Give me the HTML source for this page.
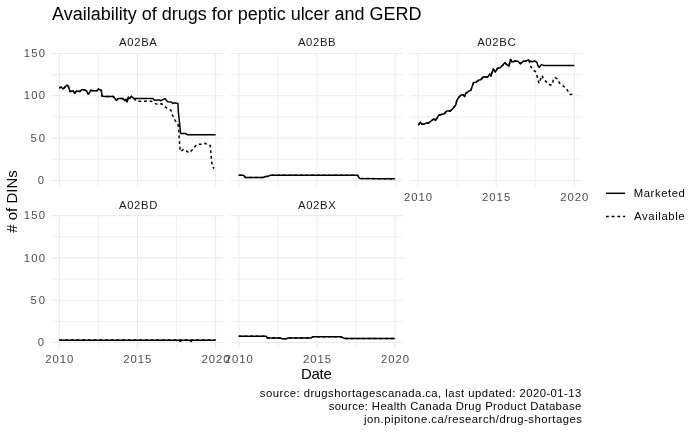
<!DOCTYPE html>
<html><head><meta charset="utf-8"><style>
html,body{margin:0;padding:0;background:#fff;}
svg{display:block;will-change:transform;}
text{font-family:"Liberation Sans",sans-serif;}
.mi{stroke:#ebebeb;stroke-width:0.75;}
.ma{stroke:#ebebeb;stroke-width:1.1;}
.ls{stroke:#000;stroke-width:1.5;fill:none;stroke-linejoin:round;}
.ld{stroke:#000;stroke-width:1.5;fill:none;stroke-dasharray:2.85 2.85;stroke-linejoin:round;}
</style></head><body>
<svg width="700" height="432" viewBox="0 0 700 432">
<rect width="700" height="432" fill="#fff"/>
<line x1="51.45" x2="223.25" y1="159.29" y2="159.29" class="mi"/>
<line x1="51.45" x2="223.25" y1="116.98" y2="116.98" class="mi"/>
<line x1="51.45" x2="223.25" y1="74.66" y2="74.66" class="mi"/>
<line x1="98.40" x2="98.40" y1="52.90" y2="186.50" class="mi"/>
<line x1="176.50" x2="176.50" y1="52.90" y2="186.50" class="mi"/>
<line x1="51.45" x2="223.25" y1="180.45" y2="180.45" class="ma"/>
<line x1="51.45" x2="223.25" y1="138.13" y2="138.13" class="ma"/>
<line x1="51.45" x2="223.25" y1="95.82" y2="95.82" class="ma"/>
<line x1="51.45" x2="223.25" y1="53.50" y2="53.50" class="ma"/>
<line x1="59.35" x2="59.35" y1="52.90" y2="186.50" class="ma"/>
<line x1="137.45" x2="137.45" y1="52.90" y2="186.50" class="ma"/>
<line x1="215.55" x2="215.55" y1="52.90" y2="186.50" class="ma"/>
<line x1="231.00" x2="402.80" y1="159.29" y2="159.29" class="mi"/>
<line x1="231.00" x2="402.80" y1="116.98" y2="116.98" class="mi"/>
<line x1="231.00" x2="402.80" y1="74.66" y2="74.66" class="mi"/>
<line x1="277.95" x2="277.95" y1="52.90" y2="186.50" class="mi"/>
<line x1="356.05" x2="356.05" y1="52.90" y2="186.50" class="mi"/>
<line x1="231.00" x2="402.80" y1="180.45" y2="180.45" class="ma"/>
<line x1="231.00" x2="402.80" y1="138.13" y2="138.13" class="ma"/>
<line x1="231.00" x2="402.80" y1="95.82" y2="95.82" class="ma"/>
<line x1="231.00" x2="402.80" y1="53.50" y2="53.50" class="ma"/>
<line x1="238.90" x2="238.90" y1="52.90" y2="186.50" class="ma"/>
<line x1="317.00" x2="317.00" y1="52.90" y2="186.50" class="ma"/>
<line x1="395.10" x2="395.10" y1="52.90" y2="186.50" class="ma"/>
<line x1="410.20" x2="582.00" y1="159.29" y2="159.29" class="mi"/>
<line x1="410.20" x2="582.00" y1="116.98" y2="116.98" class="mi"/>
<line x1="410.20" x2="582.00" y1="74.66" y2="74.66" class="mi"/>
<line x1="457.15" x2="457.15" y1="52.90" y2="186.50" class="mi"/>
<line x1="535.25" x2="535.25" y1="52.90" y2="186.50" class="mi"/>
<line x1="410.20" x2="582.00" y1="180.45" y2="180.45" class="ma"/>
<line x1="410.20" x2="582.00" y1="138.13" y2="138.13" class="ma"/>
<line x1="410.20" x2="582.00" y1="95.82" y2="95.82" class="ma"/>
<line x1="410.20" x2="582.00" y1="53.50" y2="53.50" class="ma"/>
<line x1="418.10" x2="418.10" y1="52.90" y2="186.50" class="ma"/>
<line x1="496.20" x2="496.20" y1="52.90" y2="186.50" class="ma"/>
<line x1="574.30" x2="574.30" y1="52.90" y2="186.50" class="ma"/>
<line x1="51.45" x2="223.25" y1="321.39" y2="321.39" class="mi"/>
<line x1="51.45" x2="223.25" y1="279.08" y2="279.08" class="mi"/>
<line x1="51.45" x2="223.25" y1="236.76" y2="236.76" class="mi"/>
<line x1="98.40" x2="98.40" y1="215.00" y2="348.60" class="mi"/>
<line x1="176.50" x2="176.50" y1="215.00" y2="348.60" class="mi"/>
<line x1="51.45" x2="223.25" y1="342.55" y2="342.55" class="ma"/>
<line x1="51.45" x2="223.25" y1="300.24" y2="300.24" class="ma"/>
<line x1="51.45" x2="223.25" y1="257.92" y2="257.92" class="ma"/>
<line x1="51.45" x2="223.25" y1="215.60" y2="215.60" class="ma"/>
<line x1="59.35" x2="59.35" y1="215.00" y2="348.60" class="ma"/>
<line x1="137.45" x2="137.45" y1="215.00" y2="348.60" class="ma"/>
<line x1="215.55" x2="215.55" y1="215.00" y2="348.60" class="ma"/>
<line x1="231.00" x2="402.80" y1="321.39" y2="321.39" class="mi"/>
<line x1="231.00" x2="402.80" y1="279.08" y2="279.08" class="mi"/>
<line x1="231.00" x2="402.80" y1="236.76" y2="236.76" class="mi"/>
<line x1="277.95" x2="277.95" y1="215.00" y2="348.60" class="mi"/>
<line x1="356.05" x2="356.05" y1="215.00" y2="348.60" class="mi"/>
<line x1="231.00" x2="402.80" y1="342.55" y2="342.55" class="ma"/>
<line x1="231.00" x2="402.80" y1="300.24" y2="300.24" class="ma"/>
<line x1="231.00" x2="402.80" y1="257.92" y2="257.92" class="ma"/>
<line x1="231.00" x2="402.80" y1="215.60" y2="215.60" class="ma"/>
<line x1="238.90" x2="238.90" y1="215.00" y2="348.60" class="ma"/>
<line x1="317.00" x2="317.00" y1="215.00" y2="348.60" class="ma"/>
<line x1="395.10" x2="395.10" y1="215.00" y2="348.60" class="ma"/>
<polyline class="ls" points="59.30,88.20 61.00,87.00 63.10,89.00 65.30,86.70 67.00,85.00 68.30,86.30 70.00,91.40 71.70,91.30 73.00,90.80 74.70,93.20 76.40,91.00 78.10,91.30 79.90,91.60 81.60,89.70 84.10,89.70 86.70,91.00 88.00,94.00 89.30,93.20 90.60,90.20 92.70,90.80 97.00,90.80 98.30,88.90 99.60,89.70 101.30,90.20 102.10,96.20 106.40,96.60 113.30,96.60 116.40,100.30 118.10,98.60 122.90,98.60 125.00,100.70 125.90,99.40 127.10,102.00 128.40,96.90 129.70,98.60 131.40,96.40 134.00,98.60 152.80,98.60 154.60,100.30 159.30,99.90 161.00,100.70 164.80,98.60 167.70,101.70 171.10,102.00 172.90,103.40 174.10,102.80 178.00,103.60 178.40,112.40 180.60,133.40 185.80,133.60 187.20,134.70 215.60,134.70"/>
<polyline class="ld" points="59.30,88.20 61.00,87.00 63.10,89.00 65.30,86.70 67.00,85.00 68.30,86.30 70.00,91.40 71.70,91.30 73.00,90.80 74.70,93.20 76.40,91.00 78.10,91.30 79.90,91.60 81.60,89.70 84.10,89.70 86.70,91.00 88.00,94.00 89.30,93.20 90.60,90.20 92.70,90.80 97.00,90.80 98.30,88.90 99.60,89.70 101.30,90.20 102.10,96.20 106.40,96.60 113.30,96.60 116.40,100.30 118.10,98.60 122.90,98.60 125.00,100.70 125.90,99.40 127.10,102.00 128.40,96.90 129.70,98.60 131.40,96.40 134.00,98.60 136.50,101.20 151.10,101.20 154.60,103.30 158.00,104.60 161.40,103.70 162.60,104.70 166.90,108.20 171.10,110.30 172.40,115.00 175.00,120.10 178.20,125.00 178.90,133.40 179.60,143.10 180.30,151.40 183.75,149.30 189.30,152.80 192.80,149.30 196.90,144.20 201.10,144.20 205.20,143.20 207.00,144.60 210.30,145.50 210.70,150.10 211.20,156.60 211.70,162.20 213.30,167.50 214.00,168.50"/>
<polyline class="ls" points="238.70,175.30 243.50,175.30 245.40,177.50 263.40,177.50 265.30,176.50 268.60,176.20 270.50,175.20 357.60,175.20 359.50,178.50 394.90,178.80"/>
<polyline class="ld" points="238.70,175.30 243.50,175.30 245.40,177.50 263.40,177.50 265.30,176.50 268.60,176.20 270.50,175.20 357.60,175.20 359.50,178.50 394.90,178.80"/>
<polyline class="ls" points="418.30,125.20 420.40,122.10 422.00,124.20 424.10,124.20 426.10,123.10 428.75,122.80 432.40,120.00 434.00,118.90 435.50,120.50 438.60,115.30 441.25,114.50 444.40,113.70 446.50,111.10 450.10,111.10 452.70,108.80 455.80,104.90 456.90,100.20 459.00,97.10 461.00,95.00 463.10,94.80 464.70,96.40 465.70,93.30 468.90,91.20 470.90,90.20 473.50,82.60 476.10,82.20 478.75,80.10 480.80,79.80 483.40,76.70 487.60,77.20 489.70,74.05 491.00,76.10 493.30,68.80 495.40,72.00 497.50,68.30 500.10,67.80 502.70,65.20 504.80,62.60 506.90,64.70 509.00,66.20 510.50,59.50 512.10,62.10 515.20,61.00 517.80,61.30 520.40,63.60 523.30,61.30 526.20,60.90 528.20,59.80 529.90,61.00 532.30,61.80 534.70,61.00 536.75,62.20 538.00,65.80 539.20,67.50 541.60,64.60 543.60,65.40 574.30,65.40"/>
<polyline class="ld" points="418.30,125.20 420.40,122.10 422.00,124.20 424.10,124.20 426.10,123.10 428.75,122.80 432.40,120.00 434.00,118.90 435.50,120.50 438.60,115.30 441.25,114.50 444.40,113.70 446.50,111.10 450.10,111.10 452.70,108.80 455.80,104.90 456.90,100.20 459.00,97.10 461.00,95.00 463.10,94.80 464.70,96.40 465.70,93.30 468.90,91.20 470.90,90.20 473.50,82.60 476.10,82.20 478.75,80.10 480.80,79.80 483.40,76.70 487.60,77.20 489.70,74.05 491.00,76.10 493.30,68.80 495.40,72.00 497.50,68.30 500.10,67.80 502.70,65.20 504.80,62.60 506.90,64.70 509.00,66.20 510.50,59.50 512.10,62.10 515.20,61.00 517.80,61.30 520.40,63.60 523.30,61.30 526.20,60.90 528.20,59.80 529.10,61.00 531.30,67.50 533.50,70.10 535.50,71.70 536.60,74.20 539.00,83.30 542.00,75.60 543.80,79.80 546.20,81.70 548.10,84.30 550.70,85.00 552.40,84.50 553.60,78.40 554.90,77.60 557.30,78.80 559.30,82.90 563.00,85.70 565.80,88.10 568.20,91.40 570.30,94.60 571.90,94.20 573.50,93.40 574.30,93.10"/>
<polyline class="ls" points="59.35,340.20 179.30,340.20 180.30,341.50 181.30,340.20 190.00,340.20 191.00,341.50 192.00,340.20 215.55,340.20"/>
<polyline class="ld" points="59.35,339.90 215.55,339.90"/>
<polyline class="ls" points="238.70,336.20 266.00,336.20 267.30,337.90 280.10,337.90 282.10,338.80 286.60,338.80 288.50,337.90 311.00,337.90 312.90,336.80 340.50,336.80 345.30,338.60 394.80,338.60"/>
<polyline class="ld" points="238.70,336.20 266.00,336.20 267.30,337.90 280.10,337.90 282.10,338.80 286.60,338.80 288.50,337.90 311.00,337.90 312.90,336.80 340.50,336.80 345.30,338.60 394.80,338.60"/>
<line x1="606" x2="625.1" y1="193.3" y2="193.3" class="ls"/>
<line x1="606" x2="625.1" y1="216.4" y2="216.4" class="ld"/>
<text id="title" x="52.06" y="19.80" font-size="18" fill="#000" textLength="369.54" lengthAdjust="spacing">Availability of drugs for peptic ulcer and GERD</text>
<text id="s_A02BA" x="119.06" y="45.90" font-size="11.3" fill="#1a1a1a" textLength="37.84" lengthAdjust="spacing">A02BA</text>
<text id="s_A02BB" x="297.89" y="45.70" font-size="11.3" fill="#1a1a1a" textLength="37.70" lengthAdjust="spacing">A02BB</text>
<text id="s_A02BC" x="477.20" y="45.70" font-size="11.3" fill="#1a1a1a" textLength="38.35" lengthAdjust="spacing">A02BC</text>
<text id="s_A02BD" x="118.89" y="208.70" font-size="11.3" fill="#1a1a1a" textLength="38.63" lengthAdjust="spacing">A02BD</text>
<text id="s_A02BX" x="297.89" y="208.70" font-size="11.3" fill="#1a1a1a" textLength="38.01" lengthAdjust="spacing">A02BX</text>
<text id="y_r1_0" x="37.80" y="184.05" font-size="11.3" fill="#4d4d4d" textLength="8.54" lengthAdjust="spacing">0</text>
<text id="y_r1_50" x="30.55" y="141.73" font-size="11.3" fill="#4d4d4d" textLength="14.40" lengthAdjust="spacing">50</text>
<text id="y_r1_100" x="23.67" y="99.42" font-size="11.3" fill="#4d4d4d" textLength="21.26" lengthAdjust="spacing">100</text>
<text id="y_r1_150" x="23.67" y="57.10" font-size="11.3" fill="#4d4d4d" textLength="21.26" lengthAdjust="spacing">150</text>
<text id="y_r2_0" x="37.80" y="346.15" font-size="11.3" fill="#4d4d4d" textLength="8.54" lengthAdjust="spacing">0</text>
<text id="y_r2_50" x="30.55" y="303.84" font-size="11.3" fill="#4d4d4d" textLength="14.40" lengthAdjust="spacing">50</text>
<text id="y_r2_100" x="23.67" y="261.52" font-size="11.3" fill="#4d4d4d" textLength="21.26" lengthAdjust="spacing">100</text>
<text id="y_r2_150" x="23.67" y="219.20" font-size="11.3" fill="#4d4d4d" textLength="21.26" lengthAdjust="spacing">150</text>
<text id="x_p3_2010" x="403.92" y="200.90" font-size="11.3" fill="#4d4d4d" textLength="28.13" lengthAdjust="spacing">2010</text>
<text id="x_p3_2015" x="482.05" y="200.90" font-size="11.3" fill="#4d4d4d" textLength="28.14" lengthAdjust="spacing">2015</text>
<text id="x_p3_2020" x="560.21" y="200.90" font-size="11.3" fill="#4d4d4d" textLength="28.04" lengthAdjust="spacing">2020</text>
<text id="x_p1_2010" x="45.24" y="363.00" font-size="11.3" fill="#4d4d4d" textLength="28.06" lengthAdjust="spacing">2010</text>
<text id="x_p1_2015" x="123.31" y="363.00" font-size="11.3" fill="#4d4d4d" textLength="28.11" lengthAdjust="spacing">2015</text>
<text id="x_p1_2020" x="201.41" y="363.00" font-size="11.3" fill="#4d4d4d" textLength="28.11" lengthAdjust="spacing">2020</text>
<text id="x_p2_2010" x="224.84" y="363.00" font-size="11.3" fill="#4d4d4d" textLength="28.05" lengthAdjust="spacing">2010</text>
<text id="x_p2_2015" x="302.94" y="363.00" font-size="11.3" fill="#4d4d4d" textLength="28.05" lengthAdjust="spacing">2015</text>
<text id="x_p2_2020" x="380.92" y="363.00" font-size="11.3" fill="#4d4d4d" textLength="28.13" lengthAdjust="spacing">2020</text>
<text id="date" x="300.89" y="378.80" font-size="15" fill="#000" textLength="31.01" lengthAdjust="spacing">Date</text>
<text id="mk" x="633.71" y="196.70" font-size="11.3" fill="#000" textLength="51.18" lengthAdjust="spacing">Marketed</text>
<text id="av" x="634.11" y="219.90" font-size="11.3" fill="#000" textLength="50.53" lengthAdjust="spacing">Available</text>
<text id="c1" x="259.84" y="396.60" font-size="11.3" fill="#000" textLength="321.52" lengthAdjust="spacing">source: drugshortagescanada.ca, last updated: 2020-01-13</text>
<text id="c2" x="328.66" y="409.70" font-size="11.3" fill="#000" textLength="252.59" lengthAdjust="spacing">source: Health Canada Drug Product Database</text>
<text id="c3" x="363.94" y="422.70" font-size="11.3" fill="#000" textLength="217.95" lengthAdjust="spacing">jon.pipitone.ca/research/drug-shortages</text>
<text id="ylab" x="0" y="0" font-size="15" fill="#000" text-anchor="middle" transform="translate(16.75,201.50) rotate(-90)"># of DINs</text>
</svg>
</body></html>
